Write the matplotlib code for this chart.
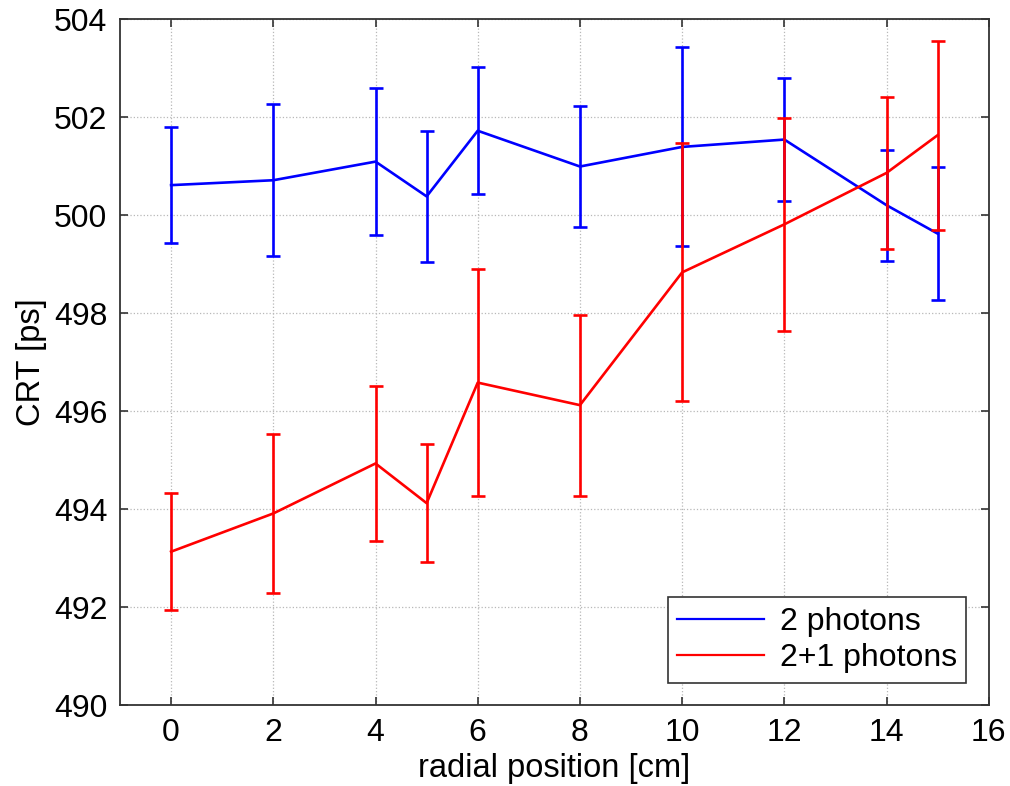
import numpy as np
import matplotlib
matplotlib.use('Agg')
import matplotlib.pyplot as plt

plt.rcParams['font.family'] = ['Liberation Sans', 'DejaVu Sans']

# radial position [cm]
pos = [0, 2, 4, 5, 6, 8, 10, 12, 14, 15]

# 2 photons
crt_2 = [500.61, 500.71, 501.09, 500.38, 501.72, 500.99, 501.39, 501.54, 500.20, 499.62]
err_2 = [1.19, 1.55, 1.50, 1.33, 1.30, 1.24, 2.03, 1.26, 1.13, 1.36]

# 2+1 photons
crt_3 = [493.13, 493.91, 494.93, 494.12, 496.58, 496.12, 498.83, 499.81, 500.86, 501.63]
err_3 = [1.19, 1.62, 1.58, 1.20, 2.31, 1.85, 2.63, 2.17, 1.55, 1.93]

fig = plt.figure(figsize=(10.1, 7.86), dpi=100)
ax = fig.add_axes([0.1188, 0.103, 0.8602, 0.8728])

lw = 1.9
ax.plot(pos, crt_2, color='#0000ff', lw=lw, label='2 photons')
ax.errorbar(pos, crt_2, yerr=err_2, fmt='none', ecolor='#0000ff',
            elinewidth=lw, capsize=5, capthick=lw)
ax.plot(pos, crt_3, color='#ff0000', lw=lw, label='2+1 photons')
ax.errorbar(pos, crt_3, yerr=err_3, fmt='none', ecolor='#ff0000',
            elinewidth=lw, capsize=5, capthick=lw)

ax.set_xlim(-1, 16)
ax.set_ylim(490, 504)
ax.set_xticks(np.arange(0, 17, 2))
ax.set_yticks(np.arange(490, 505, 2))

ax.grid(True, linestyle=':', color='#b8b8b8', lw=0.9)
ax.tick_params(direction='in', top=True, right=True, length=6, width=1.2,
               color='#333333', labelsize=23, pad=9)
for s in ax.spines.values():
    s.set_color('#333333')
    s.set_linewidth(1.3)

ax.set_xlabel('radial position [cm]', fontsize=23.5, labelpad=4)
ax.set_ylabel('CRT [ps]', fontsize=23.5, labelpad=5)

leg = ax.legend(loc='lower right', fontsize=23, handlelength=2.7,
                fancybox=False, framealpha=1, edgecolor='#333333',
                borderaxespad=0.7, handletextpad=0.5, labelspacing=0.2,
                borderpad=0.3)
leg.get_frame().set_linewidth(1.2)
for h in leg.get_lines():
    h.set_linewidth(1.6)

fig.savefig('out.png', dpi=100)
